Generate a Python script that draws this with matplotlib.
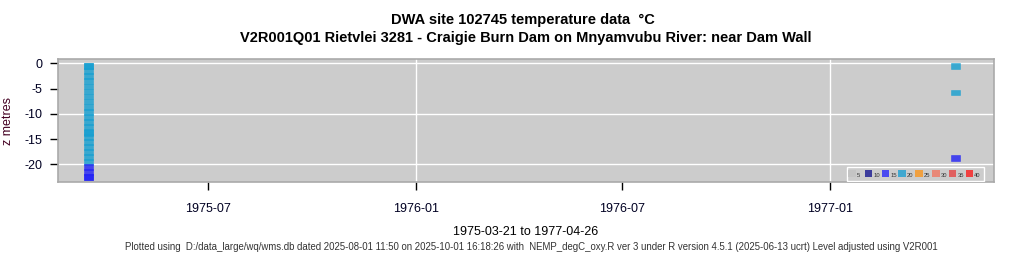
import datetime as dt
import matplotlib
matplotlib.use('Agg')
import matplotlib.pyplot as plt
import matplotlib.dates as mdates
from matplotlib.patches import Rectangle

plt.rcParams['font.family'] = ['Liberation Sans', 'DejaVu Sans']
plt.rcParams['axes.unicode_minus'] = False

# ---- data ----
# profile on 1975-03-21 (full cast)
date_a = '1975-03-21'
z_a = [0, -1, -2, -3, -4, -5, -6, -7, -8, -9, -10, -11, -12, -13, -14, -15,
       -16, -17, -18, -19, -20, -21, -22]
t_a = [21.0, 21.0, 20.9, 20.9, 20.8, 20.8, 20.7, 20.7, 20.6, 20.6, 20.5, 20.4,
       20.3, 20.2, 20.0, 19.8, 19.5, 19.2, 18.9, 18.5, 17.2, 16.8, 16.5]
# extra readings on the same day (overlapping, show darker)
date_b = '1975-03-21'
z_b = [0, -13.3, -22]
t_b = [21.2, 20.2, 16.4]
# last profile
date_c = '1977-04-26'
z_c = [0, -5.2, -18.2]
t_c = [20.5, 20.2, 17.0]

legend_levels = [5, 10, 15, 20, 25, 30, 35, 40]
legend_colours = ['#c4c4c4', '#3c3c9c', '#2222f6', '#169fd1',
                  '#f0a040', '#e88878', '#e06060', '#f04040']
legend_show = ['#c4c4c4', '#3c3c9c', '#4848f0', '#40a8d0',
               '#f0a040', '#e88878', '#e06060', '#f04040']

ylabel = 'z metres'
title1 = 'DWA site 102745 temperature data  \u00b0C'
title2 = 'V2R001Q01 Rietvlei 3281 - Craigie Burn Dam on Mnyamvubu River: near Dam Wall'
xlabel = '1975-03-21 to 1977-04-26'
footer = ('Plotted using  D:/data_large/wq/wms.db dated 2025-08-01 11:50 on 2025-10-01 16:18:26 with  '
          'NEMP_degC_oxy.R ver 3 under R version 4.5.1 (2025-06-13 ucrt) Level adjusted using V2R001')


def colour_for(t):
    i = int(round(t / 5.0)) - 1
    i = max(0, min(len(legend_colours) - 1, i))
    return legend_colours[i]


fig = plt.figure(figsize=(10.24, 2.56), dpi=100)
ax = fig.add_axes([58 / 1024, 1 - 182.3 / 256, 936 / 1024, 123 / 256])
ax.set_facecolor('#cccccc')

# grid first
for y in [0, -10, -20]:
    ax.axhline(y, color='white', lw=1, zorder=1)
for d in ['1976-01-01', '1977-01-01']:
    ax.axvline(mdates.datestr2num(d), color='white', lw=1, zorder=1)

box_h = 1.15
box_w = 8  # days, drawn ending at the sample date
for d, zs, ts in [(date_a, z_a, t_a), (date_b, z_b, t_b), (date_c, z_c, t_c)]:
    x = mdates.datestr2num(d)
    cols = [colour_for(t) for t in ts]
    ax.bar([x] * len(zs), [box_h] * len(zs), bottom=[z - box_h for z in zs],
           width=-box_w, align='edge', color=cols, alpha=0.8,
           edgecolor=cols, linewidth=0.4, zorder=3)

ax.set_xlim(mdates.datestr2num('1975-02-18'), mdates.datestr2num('1977-05-26'))
ax.set_ylim(-23.56, 0.8)

ax.xaxis.set_major_locator(mdates.MonthLocator(bymonth=[1, 7]))
ax.xaxis.set_major_formatter(mdates.DateFormatter('%Y-%m'))
ax.set_yticks([0, -5, -10, -15, -20])
ax.tick_params(axis='both', direction='out', length=6, width=1, color='black',
               labelsize=9, labelcolor='#000022')
ax.tick_params(axis='y', pad=5)
ax.tick_params(axis='x', pad=9)
for s in ax.spines.values():
    s.set_color('#aaaaaa')
    s.set_linewidth(1.2)

ax.set_ylabel(ylabel, fontsize=9, color='#440022', labelpad=8)

fig.text(523 / 1024, 1 - 20 / 256, title1, ha='center', va='center',
         fontsize=10.5, fontweight='bold')
fig.text(526 / 1024, 1 - 38 / 256, title2, ha='center', va='center',
         fontsize=10.5, fontweight='bold')
fig.text(526 / 1024, 1 - 232 / 256, xlabel, ha='center', va='center', fontsize=9)
fig.text(531 / 1024, 1 - 247 / 256, footer, ha='center', va='center',
         fontsize=6.9, color='#333333')

# colour key, bottom right inside panel
px_x = 1 / 936
px_y = 1 / 123
ax.add_patch(Rectangle(((847 - 58) * px_x, 1.3 * px_y), 137 * px_x, 14 * px_y,
                       transform=ax.transAxes, facecolor='#cccccc',
                       edgecolor='white', lw=1, zorder=5))
for k, (lev, col) in enumerate(zip(legend_levels, legend_show)):
    x0 = (848 - 58 + k * 16.8) * px_x
    ax.add_patch(Rectangle((x0, 5.3 * px_y), 7.5 * px_x, 7 * px_y,
                           transform=ax.transAxes, facecolor=col,
                           edgecolor='none', zorder=6))
    ax.text(x0 + 8.5 * px_x, 4.5 * px_y, str(lev), transform=ax.transAxes,
            fontsize=4.2, color='#333333', ha='left', va='bottom', zorder=6)

fig.savefig('out.png', dpi=100)
